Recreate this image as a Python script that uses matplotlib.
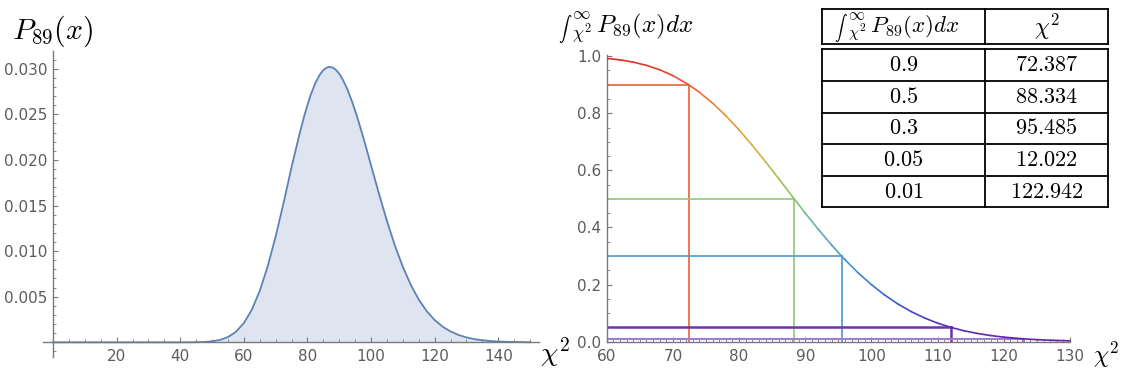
import numpy as np
import matplotlib
matplotlib.use('Agg')
import matplotlib.pyplot as plt
from matplotlib.collections import LineCollection
from matplotlib.colors import LinearSegmentedColormap, Normalize
from matplotlib.ticker import MultipleLocator, FormatStrFormatter

plt.rcParams['mathtext.fontset'] = 'cm'
plt.rcParams['font.family'] = 'DejaVu Sans'

# chi^2 density, 89 degrees of freedom
pdf_x = [0, 10, 20, 30, 40, 45, 47.5, 50, 52.5, 55, 57.5, 60, 62.5, 65, 67.5, 70, 72.5, 75,
         76, 77.5, 79, 80, 81, 82.5, 84, 85, 86, 87, 88, 89, 90, 91, 92.5, 94, 95, 96, 97.5,
         99, 100, 102.5, 105, 107.5, 110, 112.5, 115, 117.5, 120, 122.5, 125, 127.5, 130,
         132.5, 135, 137.5, 140, 145, 150]
pdf_y = [0, 0, 0, 0, 0.000001, 0.000014, 0.000042, 0.000113, 0.000268, 0.00058, 0.00115,
         0.00211, 0.00357, 0.00563, 0.00832, 0.0116, 0.01528, 0.0192, 0.02064, 0.02283,
         0.02482, 0.0260, 0.0271, 0.02844, 0.02941, 0.02985, 0.03011, 0.0302, 0.03011,
         0.02986, 0.02945, 0.02888, 0.02779, 0.02642, 0.0254, 0.02429, 0.02253, 0.02067,
         0.0194, 0.01628, 0.0133, 0.01061, 0.00827, 0.0063, 0.00469, 0.00342, 0.00245,
         0.00172, 0.00119, 0.000806, 0.00054, 0.000352, 0.00023, 0.000145, 0.000091,
         0.000034, 0.000012]

# upper tail probability (right panel)
tail_x = [60, 62, 64, 66, 68, 70, 72.387, 74, 76, 78, 80, 82, 84, 86, 88, 88.334, 90, 92, 94,
          95.485, 96, 98, 100, 102, 104, 106, 108, 110, 112.022, 114, 116, 118, 120, 122.942,
          125, 127.5, 130]
tail_y = [0.9921, 0.9869, 0.9790, 0.9677, 0.9523, 0.9318, 0.9, 0.8737, 0.8355, 0.7913,
          0.7418, 0.6876, 0.6301, 0.5704, 0.5101, 0.5, 0.4504, 0.3927, 0.3380, 0.3, 0.2873,
          0.2410, 0.1997, 0.1634, 0.1321, 0.1055, 0.0833, 0.0650, 0.05, 0.0382, 0.0289,
          0.0216, 0.0159, 0.01, 0.0072, 0.0047, 0.0030]

# table / marked levels
levels = [0.9, 0.5, 0.3, 0.05, 0.01]
level_labels = ['0.9', '0.5', '0.3', '0.05', '0.01']
chi_vals = [72.387, 88.334, 95.485, 112.022, 122.942]
chi_labels = ['72.387', '88.334', '95.485', '12.022', '122.942']
level_colors = ['#EE6035', '#90C878', '#4C9AD4', '#6E32AC', '#A47ACB']
level_widths = [1.2, 1.2, 1.2, 1.8, 1.5]

W, H = 1121, 372
fig = plt.figure(figsize=(W / 100, H / 100), dpi=100)

axis_gray = '#7a7a7a'
label_gray = '#5c5c5c'
integrand = r'${}_{\chi^2}^{\infty}\,P_{89}(x)dx$'


def style_axes(ax):
    for s in ['top', 'right']:
        ax.spines[s].set_visible(False)
    for s in ['left', 'bottom']:
        ax.spines[s].set_color(axis_gray)
        ax.spines[s].set_linewidth(1.0)
    ax.tick_params(which='both', direction='in', color=axis_gray, labelcolor=label_gray,
                   labelsize=11)
    ax.tick_params(which='major', length=3.5, width=0.8)
    ax.tick_params(which='minor', length=2, width=0.6)
    ax.tick_params(axis='y', pad=4)
    ax.tick_params(axis='x', pad=5)


def integral_label(ax, x, y, int_size, rest_size, coords):
    # big integral sign, then the limits and integrand placed right after it
    t = ax.text(x, y, r'$\int$', fontsize=int_size, ha='left', va='center',
                transform=coords, clip_on=False)
    ax.annotate(integrand, xy=(1.0, 0.5), xycoords=t, xytext=(-1, 0),
                textcoords='offset points', fontsize=rest_size, ha='left', va='center',
                annotation_clip=False)


# ---- left panel: density ----
ax1 = fig.add_axes([42.7 / W, (H - 357.3) / H, 496.6 / W, 306.3 / H])
ax1.fill_between(pdf_x, pdf_y, color='#5E81B5', alpha=0.2, lw=0)
ax1.plot(pdf_x, pdf_y, color='#5E81B5', lw=1.3, solid_joinstyle='round')
ax1.set_xlim(-3.24, 152.9)
ax1.set_ylim(-0.00164, 0.03194)
ax1.spines['left'].set_position(('data', 0))
ax1.spines['bottom'].set_position(('data', 0))
style_axes(ax1)
ax1.set_xticks([20, 40, 60, 80, 100, 120, 140])
ax1.xaxis.set_minor_locator(MultipleLocator(5))
ax1.set_yticks([0.005, 0.010, 0.015, 0.020, 0.025, 0.030])
ax1.yaxis.set_minor_locator(MultipleLocator(0.001))
ax1.yaxis.set_major_formatter(FormatStrFormatter('%.3f'))

# ---- right panel: tail probability ----
cmap = LinearSegmentedColormap.from_list('rainbowish', [
    (0.0, '#6A1FA6'), (0.1, '#4343C9'), (0.25, '#3F8FD6'), (0.4, '#5FB3A8'),
    (0.5, '#8DC56B'), (0.65, '#C9B83F'), (0.8, '#E8913A'), (0.9, '#EB5A2D'),
    (1.0, '#DD2A2A')])
norm = Normalize(0, 1)

ax2 = fig.add_axes([606.7 / W, (H - 341.7) / H, 463.3 / W, 286.7 / H])
tx = np.array(tail_x)
ty = np.array(tail_y)
pts = np.column_stack([tx, ty]).reshape(-1, 1, 2)
segs = np.concatenate([pts[:-1], pts[1:]], axis=1)
lc = LineCollection(segs, colors=cmap(norm((ty[:-1] + ty[1:]) / 2)), linewidths=1.2,
                    capstyle='round', zorder=3)
ax2.add_collection(lc)
for lv, cx, col, lw in zip(levels, chi_vals, level_colors, level_widths):
    ax2.plot([60, cx], [lv, lv], color=col, lw=lw, zorder=2)
    ax2.plot([cx, cx], [0, lv], color=col, lw=lw, zorder=2)
ax2.set_xlim(60, 130)
ax2.set_ylim(0, 1.004)
style_axes(ax2)
ax2.set_xticks(range(60, 131, 10))
ax2.xaxis.set_minor_locator(MultipleLocator(1))
ax2.set_yticks([0.0, 0.2, 0.4, 0.6, 0.8, 1.0])
ax2.yaxis.set_minor_locator(MultipleLocator(0.05))
ax2.yaxis.set_major_formatter(FormatStrFormatter('%.1f'))

# ---- labels ----
fig.text(12 / W, 1 - 31 / H, r'$P_{89}(x)$', fontsize=21.5, va='center', ha='left')
integral_label(ax2, 558 / W, 1 - 29 / H, 9.5, 18, fig.transFigure)
fig.text(540 / W, 1 - 352 / H, r'$\chi^2$', fontsize=20, va='center', ha='left')
fig.text(1093 / W, 1 - 355 / H, r'$\chi^2$', fontsize=17.5, va='center', ha='left')

# ---- table ----
tw, th = 286.0, 198.0
axt = fig.add_axes([822.3 / W, (H - 207.3) / H, tw / W, th / H])
axt.set_xlim(0, tw)
axt.set_ylim(th, 0)
axt.axis('off')
col_x = 162.4
head_top, head_bot = 0.0, 35.0
row_edges = [40.0, 71.7, 103.3, 134.9, 166.5, 198.0]
lk = dict(color='black', lw=1.3, solid_capstyle='projecting', clip_on=False)
for y in [head_top, head_bot]:
    axt.plot([0, tw], [y, y], **lk)
for y in row_edges:
    axt.plot([0, tw], [y, y], **lk)
for x in [0, col_x, tw]:
    axt.plot([x, x], [head_top, head_bot], **lk)
    axt.plot([x, x], [row_edges[0], row_edges[-1]], **lk)
integral_label(axt, 12, 19, 9, 16.5, axt.transData)
axt.text((col_x + tw) / 2, 17.5, r'$\chi^2$', fontsize=17, ha='center', va='center')
for i in range(len(levels)):
    yc = (row_edges[i] + row_edges[i + 1]) / 2
    axt.text(col_x / 2, yc, '$' + level_labels[i] + '$', fontsize=16,
             ha='center', va='center')
    axt.text((col_x + tw) / 2, yc, '$' + chi_labels[i] + '$', fontsize=16,
             ha='center', va='center')

fig.savefig('out.png', dpi=100)
